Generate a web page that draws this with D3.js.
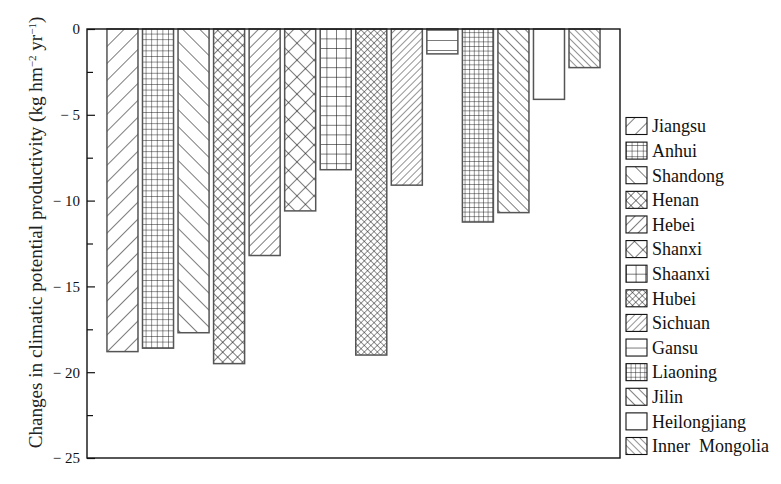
<!DOCTYPE html>
<html>
<head>
<meta charset="utf-8">
<script src="https://cdn.jsdelivr.net/npm/d3@7"></script>
<style>
  html, body { margin: 0; padding: 0; background: #fff; }
  svg { display: block; }
</style>
</head>
<body>
<svg id="chart" width="781" height="484"></svg>
<script>
// ---- data ----
const provinces = ["Jiangsu", "Anhui", "Shandong", "Henan", "Hebei", "Shanxi", "Shaanxi",
  "Hubei", "Sichuan", "Gansu", "Liaoning", "Jilin", "Heilongjiang", "Inner Mongolia"];
const changes = [-18.8, -18.6, -17.7, -19.5, -13.2, -10.6, -8.2,
  -19.0, -9.1, -1.45, -11.25, -10.7, -4.1, -2.25];
const majorTicks = [0, -5, -10, -15, -20, -25];
const minorTicks = [-2.5, -7.5, -12.5, -17.5, -22.5];
const yTitle = "Changes in climatic potential productivity (kg hm";

// ---- hatch styles (one per province) ----
const hatchKind = ["fwd", "grid", "back", "cross", "fwd", "cross", "grid",
  "cross", "fwd", "horiz", "grid", "back", "none", "back"];
const hatchGap = [12, 5.6, 12, 7, 7, 12, 9.6, 4.6, 5, 10, 4.6, 7, 0, 5];

const FONT = "Liberation Serif";
const svg = d3.select("#chart");
const plot = { left: 87, top: 29, right: 620, bottom: 458 };

const defs = svg.append("defs");
hatchKind.forEach((k, i) => {
  if (k === "none") return;
  const g = hatchGap[i];
  const p = defs.append("pattern")
    .attr("id", "hatch" + i)
    .attr("patternUnits", "userSpaceOnUse")
    .attr("width", g).attr("height", g);
  if (k === "fwd" || k === "cross") p.attr("patternTransform", "rotate(45)");
  if (k === "back") p.attr("patternTransform", "rotate(-45)");
  p.append("rect").attr("width", g).attr("height", g).attr("fill", "#fff");
  const sw = g < 6 ? 0.9 : 1.1;
  if (k !== "horiz") {
    p.append("line").attr("x1", 0).attr("y1", -1).attr("x2", 0).attr("y2", g + 1)
      .attr("stroke", "#111").attr("stroke-width", sw);
  }
  if (k === "cross" || k === "grid" || k === "horiz") {
    p.append("line").attr("x1", -1).attr("y1", 0).attr("x2", g + 1).attr("y2", 0)
      .attr("stroke", "#111").attr("stroke-width", sw);
  }
});
const fillFor = i => hatchKind[i] === "none" ? "#fff" : `url(#hatch${i})`;

const x = d3.scaleBand()
  .domain(provinces)
  .range([104.7, 602.3])
  .paddingInner(0.127)
  .paddingOuter(0.0635);

const y = d3.scaleLinear().domain([0, -25]).range([plot.top, plot.bottom]);

// bars
svg.append("g").selectAll("rect")
  .data(provinces)
  .join("rect")
  .attr("x", d => x(d))
  .attr("width", x.bandwidth())
  .attr("y", y(0))
  .attr("height", (d, i) => y(changes[i]) - y(0))
  .attr("fill", (d, i) => fillFor(i))
  .attr("stroke", "#555")
  .attr("stroke-width", 1.5);

// frame
svg.append("rect")
  .attr("x", plot.left).attr("y", plot.top)
  .attr("width", plot.right - plot.left).attr("height", plot.bottom - plot.top)
  .attr("fill", "none").attr("stroke", "#111").attr("stroke-width", 1.4);

// y axis: major
const fmt = v => v === 0 ? "0" : "\u2212 " + Math.abs(v);
const yAxis = svg.append("g")
  .attr("transform", `translate(${plot.left},0)`)
  .call(d3.axisLeft(y).tickValues(majorTicks).tickSizeInner(-8).tickSizeOuter(0).tickPadding(7)
    .tickFormat(fmt));
yAxis.attr("font-family", FONT).attr("font-size", 15);
yAxis.select(".domain").remove();
yAxis.selectAll("line").attr("stroke", "#111").attr("stroke-width", 1.2);
yAxis.selectAll("text")
  .attr("font-family", FONT).attr("font-size", 15).attr("fill", "#111")
  .style("white-space", "pre");

// minor ticks
const yMinor = svg.append("g")
  .attr("transform", `translate(${plot.left},0)`)
  .call(d3.axisLeft(y).tickValues(minorTicks).tickSizeInner(-6).tickSizeOuter(0).tickFormat(""));
yMinor.select(".domain").remove();
yMinor.selectAll("line").attr("stroke", "#111").attr("stroke-width", 1.2);

// y title
const t = svg.append("text")
  .attr("text-anchor", "middle")
  .attr("font-family", FONT)
  .attr("font-size", 17)
  .attr("fill", "#222");
t.append("tspan").text(yTitle);
t.append("tspan").attr("dy", -6).attr("font-size", 11).text("\u22122");
t.append("tspan").attr("dy", 6).text(" yr");
t.append("tspan").attr("dy", -6).attr("font-size", 11).text("\u22121");
t.append("tspan").attr("dy", 6).text(")");
const len = t.node().getComputedTextLength();
t.attr("font-size", (17 * 435 / len).toFixed(2));
t.attr("transform", `translate(42,${232.5}) rotate(-90)`);

// legend
const legStep = (446 - 126) / 13;
const leg = svg.append("g").selectAll("g")
  .data(provinces)
  .join("g")
  .attr("transform", (d, i) => `translate(626,${126 + i * legStep})`);
leg.append("rect")
  .attr("x", 0).attr("y", -8.5).attr("width", 21).attr("height", 17)
  .attr("fill", (d, i) => fillFor(i))
  .attr("stroke", "#111").attr("stroke-width", 1.1);
leg.append("text")
  .attr("x", 26).attr("y", 0).attr("dy", "0.35em")
  .attr("font-family", FONT).attr("font-size", 18).attr("fill", "#111")
  .text(d => d === "Inner Mongolia" ? "Inner\u00a0 Mongolia" : d);
</script>
</body>
</html>
